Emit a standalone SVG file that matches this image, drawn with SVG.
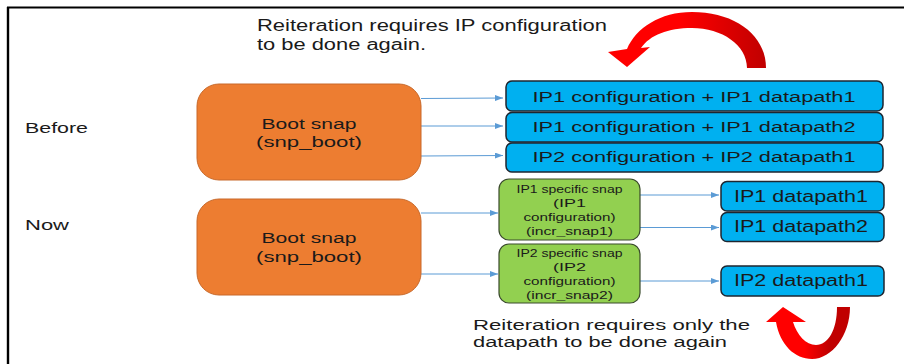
<svg xmlns="http://www.w3.org/2000/svg" width="904" height="364" viewBox="0 0 904 364">
  <defs>
    <style>
      .t { font-family: "Liberation Sans", Arial, sans-serif; fill: #1a1a1a; }
      .blue { fill: #00B0F0; stroke: #1E2630; stroke-width: 1.5; }
      .green { fill: #92D050; stroke: #3A4A2C; stroke-width: 1.2; }
      .orange { fill: #ED7D31; stroke: #C8692A; stroke-width: 1; }
      .conn { stroke: #5B9BD5; stroke-width: 1; fill: none; }
      .frame { stroke: #000; fill: none; }
    </style>
    <marker id="ah" viewBox="0 0 8 6" refX="8" refY="3" markerWidth="8" markerHeight="6" orient="auto" markerUnits="userSpaceOnUse">
      <path d="M0,0 L8,3 L0,6 z" fill="#5B9BD5"/>
    </marker>
    <linearGradient id="redTop" gradientUnits="userSpaceOnUse" x1="610" y1="0" x2="766" y2="0">
      <stop offset="0.45" stop-color="#FF0000"/>
      <stop offset="1" stop-color="#C00000"/>
    </linearGradient>
    <linearGradient id="redBot" gradientUnits="userSpaceOnUse" x1="767" y1="0" x2="850" y2="0">
      <stop offset="0.45" stop-color="#FF0000"/>
      <stop offset="0.75" stop-color="#C00000"/>
    </linearGradient>
  </defs>

  <rect width="904" height="364" fill="#fff"/>

  <!-- figure frame -->
  <line class="frame" x1="7" y1="7.5" x2="904" y2="7.5" stroke-width="2"/>
  <line class="frame" x1="8" y1="7" x2="8" y2="364" stroke-width="2.4"/>

  <!-- row labels -->
  <text class="t" x="25" y="133" font-size="15" textLength="63" lengthAdjust="spacingAndGlyphs">Before</text>
  <text class="t" x="25" y="230" font-size="15" textLength="44" lengthAdjust="spacingAndGlyphs">Now</text>

  <!-- notes -->
  <text class="t" x="257" y="31" font-size="16" textLength="350" lengthAdjust="spacingAndGlyphs">Reiteration requires IP configuration</text>
  <text class="t" x="257" y="50" font-size="16" textLength="169" lengthAdjust="spacingAndGlyphs">to be done again.</text>
  <text class="t" x="473" y="330" font-size="14" textLength="277" lengthAdjust="spacingAndGlyphs">Reiteration requires only the</text>
  <text class="t" x="473" y="346.5" font-size="14" textLength="254" lengthAdjust="spacingAndGlyphs">datapath to be done again</text>

  <!-- curved red arrows -->
  <path id="arrow-redo-config" fill="url(#redTop)" d="M747 68 L766 68 C766 35 735 12 692 12 C660 12 636 28 627 49 L608 52 L627 67 L650 47 L641 48 C650 35 668 28 692 28 C722 28 747 45 747 68 Z"/>
  <path id="arrow-redo-datapath" fill="url(#redBot)" d="M776 322 C780 345 795 359 812 359 C832 359 850 335 850 307 L837 307 C837 330 828 345 816 345 C806 345 797 335 793 322 L806 322 L783 307 L766 322 Z"/>

  <!-- connectors -->
  <g id="connectors" class="conn" marker-end="url(#ah)">
    <line x1="421" y1="98.5" x2="503" y2="98"/>
    <line x1="421" y1="126" x2="503" y2="126"/>
    <line x1="421" y1="156" x2="503" y2="155.5"/>
    <line x1="421" y1="213" x2="498" y2="213"/>
    <line x1="421" y1="274" x2="498" y2="274"/>
    <line x1="640" y1="195" x2="719" y2="195"/>
    <line x1="640" y1="227.5" x2="719" y2="227.5"/>
    <line x1="640" y1="281" x2="719" y2="281"/>
  </g>

  <!-- Before -->
  <g id="boot-before">
    <rect class="orange" x="197" y="84" width="224" height="96" rx="22"/>
    <text class="t" x="309" y="128.5" font-size="15.5" text-anchor="middle" textLength="95" lengthAdjust="spacingAndGlyphs">Boot snap</text>
    <text class="t" x="309" y="147" font-size="15.5" text-anchor="middle" textLength="106" lengthAdjust="spacingAndGlyphs">(snp_boot)</text>
  </g>
  <g id="full-ip1-dp1">
    <rect class="blue" x="506" y="81" width="377" height="30" rx="6"/>
    <text class="t" x="694" y="101.7" font-size="15.5" text-anchor="middle" textLength="323" lengthAdjust="spacingAndGlyphs">IP1 configuration + IP1 datapath1</text>
  </g>
  <g id="full-ip1-dp2">
    <rect class="blue" x="506" y="112.5" width="377" height="29.5" rx="6"/>
    <text class="t" x="694" y="132.3" font-size="15.5" text-anchor="middle" textLength="323" lengthAdjust="spacingAndGlyphs">IP1 configuration + IP1 datapath2</text>
  </g>
  <g id="full-ip2-dp1">
    <rect class="blue" x="506" y="143" width="377" height="29" rx="6"/>
    <text class="t" x="694" y="161.7" font-size="15.5" text-anchor="middle" textLength="323" lengthAdjust="spacingAndGlyphs">IP2 configuration + IP2 datapath1</text>
  </g>

  <!-- Now -->
  <g id="boot-now">
    <rect class="orange" x="197" y="199" width="224" height="96" rx="22"/>
    <text class="t" x="309" y="243" font-size="15.5" text-anchor="middle" textLength="95" lengthAdjust="spacingAndGlyphs">Boot snap</text>
    <text class="t" x="309" y="262" font-size="15.5" text-anchor="middle" textLength="106" lengthAdjust="spacingAndGlyphs">(snp_boot)</text>
  </g>
  <g id="incr-snap1">
    <rect class="green" x="499" y="179" width="141" height="61" rx="10"/>
    <text class="t" x="569.5" y="193" font-size="11.5" text-anchor="middle" textLength="106" lengthAdjust="spacingAndGlyphs">IP1 specific snap</text>
    <text class="t" x="569.5" y="207" font-size="11.5" text-anchor="middle" textLength="33" lengthAdjust="spacingAndGlyphs">(IP1</text>
    <text class="t" x="569.5" y="221" font-size="11.5" text-anchor="middle" textLength="92" lengthAdjust="spacingAndGlyphs">configuration)</text>
    <text class="t" x="569.5" y="235" font-size="11.5" text-anchor="middle" textLength="87" lengthAdjust="spacingAndGlyphs">(incr_snap1)</text>
  </g>
  <g id="incr-snap2">
    <rect class="green" x="499" y="244" width="141" height="59" rx="10"/>
    <text class="t" x="569.5" y="257" font-size="11.5" text-anchor="middle" textLength="106" lengthAdjust="spacingAndGlyphs">IP2 specific snap</text>
    <text class="t" x="569.5" y="271" font-size="11.5" text-anchor="middle" textLength="33" lengthAdjust="spacingAndGlyphs">(IP2</text>
    <text class="t" x="569.5" y="285" font-size="11.5" text-anchor="middle" textLength="92" lengthAdjust="spacingAndGlyphs">configuration)</text>
    <text class="t" x="569.5" y="299" font-size="11.5" text-anchor="middle" textLength="87" lengthAdjust="spacingAndGlyphs">(incr_snap2)</text>
  </g>
  <g id="dp-ip1-1">
    <rect class="blue" x="721" y="181.5" width="163" height="29.5" rx="6"/>
    <text class="t" x="801" y="201.5" font-size="16" text-anchor="middle" textLength="134" lengthAdjust="spacingAndGlyphs">IP1 datapath1</text>
  </g>
  <g id="dp-ip1-2">
    <rect class="blue" x="721" y="212.5" width="163" height="29" rx="6"/>
    <text class="t" x="801" y="232" font-size="16" text-anchor="middle" textLength="134" lengthAdjust="spacingAndGlyphs">IP1 datapath2</text>
  </g>
  <g id="dp-ip2-1">
    <rect class="blue" x="721" y="266" width="163" height="30" rx="6"/>
    <text class="t" x="801" y="286" font-size="16" text-anchor="middle" textLength="134" lengthAdjust="spacingAndGlyphs">IP2 datapath1</text>
  </g>
</svg>
